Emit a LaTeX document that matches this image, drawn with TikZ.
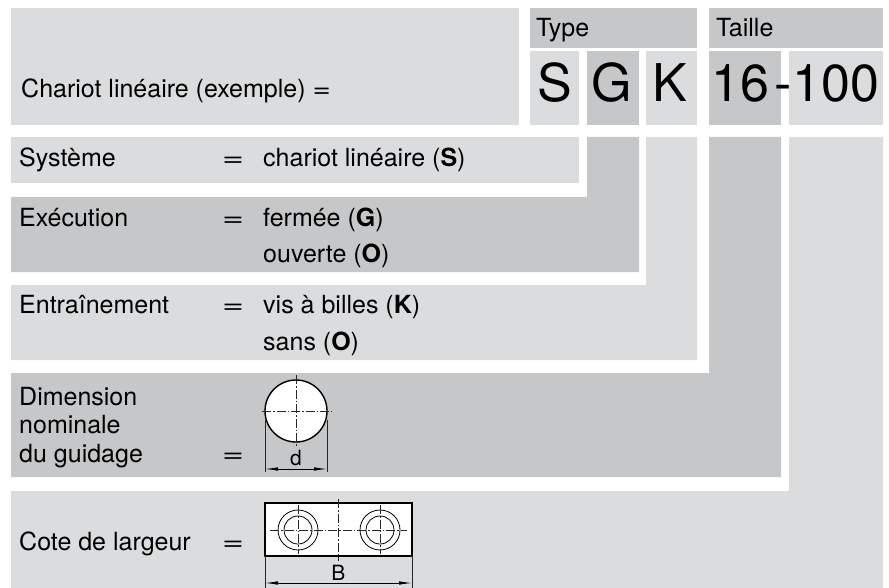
\documentclass[tikz,border=0pt]{standalone}
\usepackage{fontspec}
\setmainfont{TeX Gyre Heros}
\usepackage{graphicx}
\usepackage{tikz}
\usetikzlibrary{arrows.meta}
\definecolor{rowlight}{RGB}{219,220,222}
\definecolor{rowdark}{RGB}{198,199,201}
\newcommand{\eqsym}{\scalebox{1.5}[1]{=}}
\tikzset{
  txt/.style={anchor=base west, inner sep=0pt, font=\fontsize{25}{30}\selectfont},
  eqs/.style={anchor=base, inner sep=0pt, font=\fontsize{25}{30}\selectfont},
  big/.style={anchor=base, inner sep=0pt, font=\fontsize{52}{60}\selectfont},
  small/.style={anchor=base, inner sep=0pt, font=\fontsize{21}{25}\selectfont},
  axisline/.style={black!85, line width=0.6pt, dash pattern=on 9pt off 2pt on 1.5pt off 2pt},
  extline/.style={black!85, line width=0.6pt},
  dimline/.style={line width=0.8pt, {Latex[length=13pt,width=3.5pt]}-{Latex[length=13pt,width=3.5pt]}}
}

\begin{document}
\begin{tikzpicture}[x=1pt,y=-1pt]
\useasboundingbox (0,0) rectangle (889,588);

% head of the code
\fill[rowlight] (11,8) rectangle (519,125);
\fill[rowdark] (530,8) rectangle (697,48);
\fill[rowdark] (709,8) rectangle (883,48);
\fill[rowlight] (530,51) rectangle (579,125);
\fill[rowdark] (587,51) rectangle (639,125);
\fill[rowlight] (646,51) rectangle (697,125);
\fill[rowdark] (709,51) rectangle (781,125);
\fill[rowlight] (789,51) rectangle (883,125);

% rows with their columns
\fill[rowlight] (11,137) rectangle (579,183);
\fill[rowdark] (11,197) -- (587,197) -- (587,137) -- (639,137) -- (639,272) -- (11,272) -- cycle;
\fill[rowlight] (11,285) -- (646,285) -- (646,137) -- (697,137) -- (697,360) -- (11,360) -- cycle;
\fill[rowdark] (11,373) -- (709,373) -- (709,137) -- (781,137) -- (781,477) -- (11,477) -- cycle;
\fill[rowlight] (11,491) -- (789,491) -- (789,137) -- (883,137) -- (883,588) -- (11,588) -- cycle;

\node (chariot) at (21,98) [txt] {Chariot linéaire (exemple) \scalebox{1.25}[1]{=}};
\node (type) at (536,37) [txt] {Type};
\node (taille) at (716,37) [txt] {Taille};
\node (letS) at (555,102) [big] {S};
\node (letG) at (612,102) [big] {G};
\node (letK) at (670,102) [big] {K};
\node (size) at (740,102) [big] {16};
\node (dash) at (783,102) [big] {-};
\node (len) at (836,102) [big] {100};

\node (sys) at (19,167) [txt] {Système};
\node (syseq) at (233,167) [eqs] {\eqsym};
\node (sysval) at (263,167) [txt] {chariot linéaire (\textbf{S})};

\node (exe) at (19,226) [txt] {Exécution};
\node (exeeq) at (233,226) [eqs] {\eqsym};
\node (exeG) at (263,226) [txt] {fermée (\textbf{G})};
\node (exeO) at (263,262) [txt] {ouverte (\textbf{O})};

\node (ent) at (19,313) [txt] {Entraînement};
\node (enteq) at (233,313) [eqs] {\eqsym};
\node (entK) at (263,313) [txt] {vis à billes (\textbf{K})};
\node (entO) at (263,350) [txt] {sans (\textbf{O})};

\node (dim1) at (19,405) [txt] {Dimension};
\node (dim2) at (19,433) [txt] {nominale};
\node (dim3) at (19,462) [txt] {du guidage};
\node (dimeq) at (233,462) [eqs] {\eqsym};

\node (cote) at (19,550) [txt] {Cote de largeur};
\node (coteeq) at (233,550) [eqs] {\eqsym};

% guide diameter
\filldraw[fill=white, draw=black, line width=1.4pt] (296,411) circle[radius=31pt];
\draw[axisline] (262,411) -- (332,411);
\draw[axisline] (296,375) -- (296,446);
\coordinate (dL) at (265,469);
\coordinate (dR) at (327,469);
\draw[extline] (265,420) -- (265,472);
\draw[extline] (327,420) -- (327,472);
\draw[dimline] (dL) -- (dR);
\node (dlab) at (296,465) [small] {d};

% width of the carriage
\filldraw[fill=white, draw=black, line width=1.6pt] (265,503) rectangle (412,556);
\foreach \hx in {298,380} {
  \draw[line width=0.8pt] (\hx,530) circle[radius=20pt];
  \draw[line width=0.8pt] (\hx,530) circle[radius=14pt];
  \draw[axisline] (\hx,505) -- (\hx,554);
}
\draw[axisline] (270,530) -- (407,530);
\draw[axisline] (338.5,499) -- (338.5,561);
\coordinate (bL) at (265,583);
\coordinate (bR) at (412,583);
\draw[extline] (265,556) -- (265,588);
\draw[extline] (412,556) -- (412,588);
\draw[dimline] (bL) -- (bR);
\node (blab) at (338.5,580) [small] {B};
\end{tikzpicture}
\end{document}
